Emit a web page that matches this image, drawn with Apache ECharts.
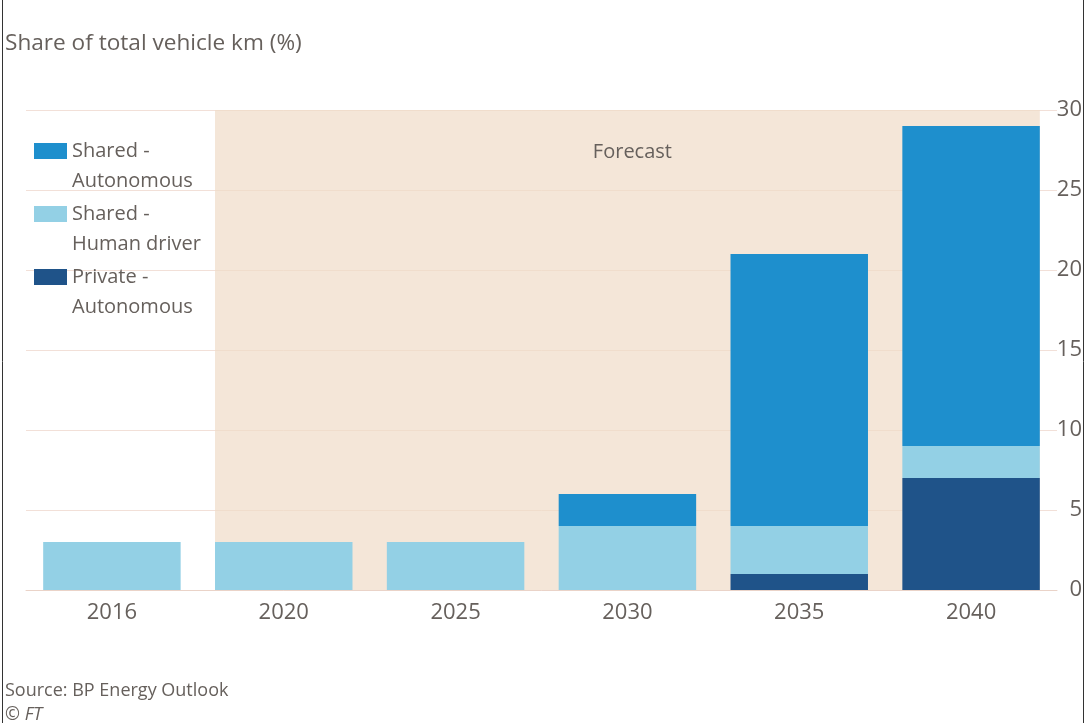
<!DOCTYPE html>
<html>
<head>
<meta charset="utf-8">
<script src="https://cdn.jsdelivr.net/npm/echarts@6/dist/echarts.min.js"></script>
<style>
html,body{margin:0;padding:0;background:#ffffff;}
#chart{width:1086px;height:723px;}
</style>
</head>
<body>
<div id="chart"></div>
<script>
// ---- data ----
const categories = ['2016', '2020', '2025', '2030', '2035', '2040'];
const privateAutonomous = [0, 0, 0, 0, 1, 7];
const sharedHuman = [3, 3, 3, 4, 3, 2];
const sharedAutonomous = [0, 0, 0, 2, 17, 20];
const seriesNames = ['Shared -\nAutonomous', 'Shared -\nHuman driver', 'Private -\nAutonomous'];
const yTicks = { min: 0, max: 30, interval: 5 };
// forecast band, in category units (from the 2020 bar's left edge to the 2040 bar's right edge)
const forecastStart = 1.1;
const forecastEnd = 5.9;

const TXT = '#66605c';
const FONT = '"Open Sans", sans-serif';

const chart = echarts.init(document.getElementById('chart'), null, { renderer: 'canvas' });

chart.setOption({
  backgroundColor: '#ffffff',
  animation: false,
  textStyle: { fontFamily: FONT },
  title: [
    { text: 'Share of total vehicle km (%)', left: 0, top: 27,
      textStyle: { color: TXT, fontSize: 22.6, fontWeight: 'normal', fontFamily: FONT } },
    { text: 'Source: BP Energy Outlook', left: 0, top: 677,
      textStyle: { color: TXT, fontSize: 18, fontWeight: 'normal', fontFamily: FONT } },
    { text: '© FT', left: 0, top: 701,
      textStyle: { color: TXT, fontSize: 18, fontWeight: 'normal', fontStyle: 'italic', fontFamily: FONT } }
  ],
  legend: {
    orient: 'vertical',
    left: 34,
    top: 106,
    padding: 0,
    itemWidth: 33,
    itemHeight: 16,
    itemGap: -27,
    icon: 'rect',
    data: seriesNames,
    formatter: function (name) { return '\n' + name; },
    textStyle: { color: TXT, fontSize: 20, lineHeight: 30, fontFamily: FONT }
  },
  grid: { left: 26, right: 29, top: 110, bottom: 133 },
  xAxis: [
    {
      type: 'category',
      data: categories,
      axisLine: { show: true, lineStyle: { color: '#ead3c8', width: 1 } },
      axisTick: { show: false },
      axisLabel: { color: TXT, fontSize: 22, margin: 12, fontFamily: FONT }
    },
    {
      type: 'value', min: 0, max: categories.length, show: false
    }
  ],
  yAxis: {
    type: 'value',
    position: 'right',
    min: yTicks.min, max: yTicks.max, interval: yTicks.interval,
    axisLine: { show: false },
    axisTick: { show: false },
    splitLine: { show: true, lineStyle: { color: '#f2e0d8', width: 1 } },
    axisLabel: { color: TXT, fontSize: 22, align: 'right', margin: 25, fontFamily: FONT }
  },
  series: [
    {
      type: 'line',
      xAxisIndex: 1,
      data: [],
      z: 1,
      silent: true,
      symbol: 'none',
      lineStyle: { opacity: 0 },
      markArea: {
        silent: true,
        itemStyle: { color: 'rgba(240,219,199,0.7)' },
        label: {
          show: true, position: 'insideTop', distance: 32, offset: [5, 0],
          color: TXT, fontSize: 20, fontFamily: FONT
        },
        data: [[
          { name: 'Forecast', coord: [forecastStart, yTicks.max] },
          { coord: [forecastEnd, yTicks.min] }
        ]]
      }
    },
    {
      name: seriesNames[2], type: 'bar', stack: 'total', data: privateAutonomous,
      barCategoryGap: '20%', z: 3, itemStyle: { color: '#1f5389' }
    },
    {
      name: seriesNames[1], type: 'bar', stack: 'total', data: sharedHuman,
      barCategoryGap: '20%', z: 3, itemStyle: { color: '#93d0e5' }
    },
    {
      name: seriesNames[0], type: 'bar', stack: 'total', data: sharedAutonomous,
      barCategoryGap: '20%', z: 3, itemStyle: { color: '#1e8fcd' }
    }
  ],
  graphic: [
    { type: 'line', shape: { x1: 2.5, y1: 0, x2: 2.5, y2: 723 }, style: { stroke: '#333', lineWidth: 1 }, z: 10 },
    { type: 'line', shape: { x1: 1083.5, y1: 0, x2: 1083.5, y2: 723 }, style: { stroke: '#333', lineWidth: 1 }, z: 10 }
  ]
});
</script>
</body>
</html>
